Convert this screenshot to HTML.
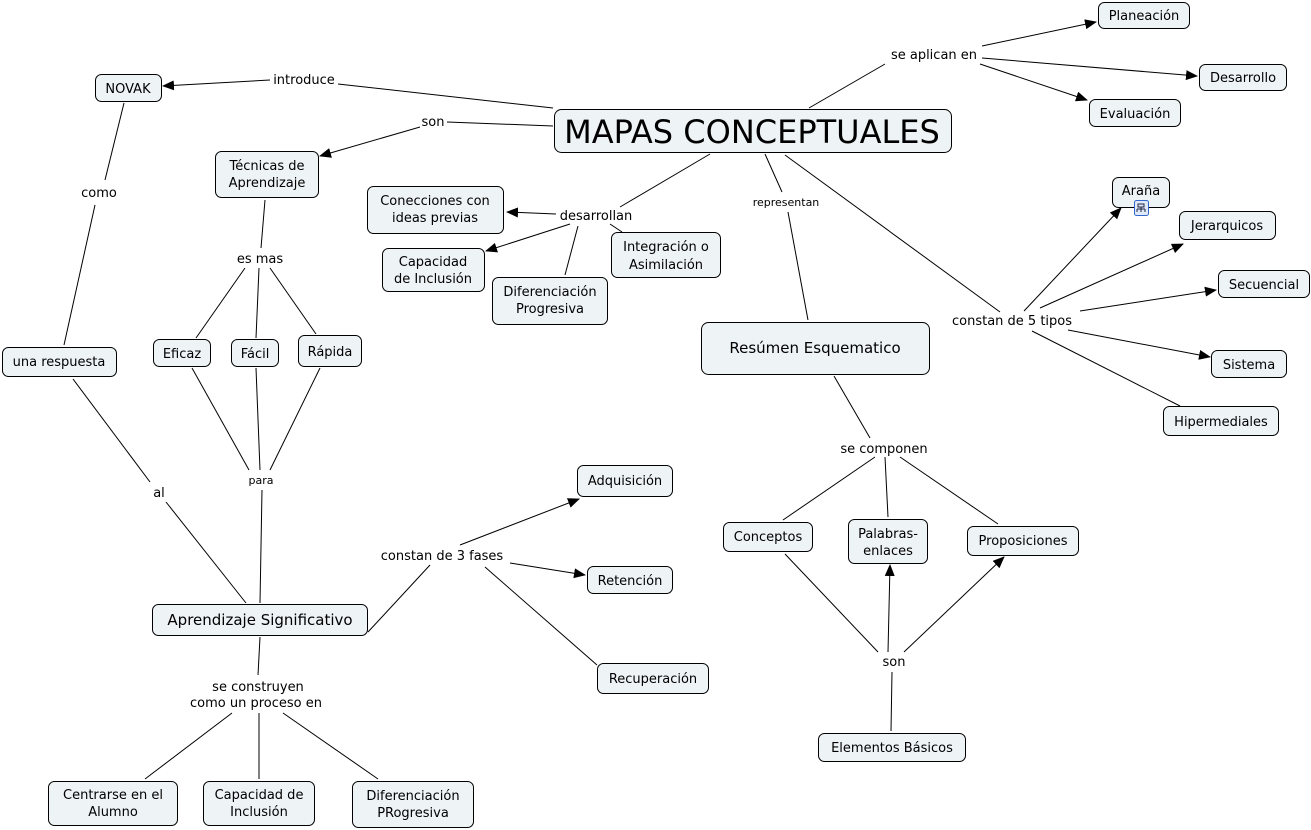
<!DOCTYPE html>
<html><head><meta charset="utf-8"><style>
html,body{margin:0;padding:0;background:#fff}
svg{display:block}
text{font-family:"DejaVu Sans","Liberation Sans",sans-serif;font-size:13px;fill:#000}
.b{fill:#eef3f5;stroke:#000;stroke-width:1}
line{stroke:#000;stroke-width:1}
</style></head><body>
<svg width="1311" height="830" viewBox="0 0 1311 830">
<defs><marker id="a" markerWidth="12" markerHeight="10" refX="11" refY="5" orient="auto" markerUnits="userSpaceOnUse"><path d="M0,0 L12,5 L0,10 z" fill="#000"/></marker></defs>
<g>
<line x1="553" y1="108" x2="338" y2="84"/>
<line x1="270" y1="80" x2="163" y2="86" marker-end="url(#a)"/>
<line x1="553" y1="126" x2="447" y2="122"/>
<line x1="420" y1="127" x2="320" y2="156" marker-end="url(#a)"/>
<line x1="124" y1="103" x2="105" y2="180"/>
<line x1="95" y1="205" x2="64" y2="345"/>
<line x1="265" y1="200" x2="261" y2="248"/>
<line x1="245" y1="268" x2="196" y2="338"/>
<line x1="259" y1="268" x2="256" y2="338"/>
<line x1="270" y1="268" x2="316" y2="334"/>
<line x1="192" y1="368" x2="249" y2="470"/>
<line x1="256" y1="368" x2="260" y2="470"/>
<line x1="320" y1="368" x2="270" y2="470"/>
<line x1="262" y1="490" x2="260" y2="603"/>
<line x1="73" y1="379" x2="150" y2="482"/>
<line x1="166" y1="502" x2="246" y2="603"/>
<line x1="368" y1="632" x2="430" y2="565"/>
<line x1="460" y1="545" x2="579" y2="499" marker-end="url(#a)"/>
<line x1="510" y1="563" x2="585" y2="575" marker-end="url(#a)"/>
<line x1="485" y1="567" x2="597" y2="665"/>
<line x1="260" y1="637" x2="258" y2="675"/>
<line x1="232" y1="713" x2="145" y2="779"/>
<line x1="259" y1="713" x2="259" y2="779"/>
<line x1="283" y1="713" x2="378" y2="779"/>
<line x1="710" y1="154" x2="620" y2="207"/>
<line x1="556" y1="214" x2="507" y2="212" marker-end="url(#a)"/>
<line x1="570" y1="224" x2="486" y2="251" marker-end="url(#a)"/>
<line x1="578" y1="226" x2="565" y2="275"/>
<line x1="610" y1="224" x2="622" y2="232"/>
<line x1="765" y1="154" x2="782" y2="192"/>
<line x1="788" y1="212" x2="808" y2="320"/>
<line x1="834" y1="376" x2="870" y2="438"/>
<line x1="875" y1="457" x2="783" y2="520"/>
<line x1="885" y1="457" x2="888" y2="517"/>
<line x1="900" y1="457" x2="998" y2="524"/>
<line x1="785" y1="554" x2="878" y2="652"/>
<line x1="888" y1="652" x2="890" y2="565" marker-end="url(#a)"/>
<line x1="904" y1="652" x2="1004" y2="557" marker-end="url(#a)"/>
<line x1="892" y1="672" x2="891" y2="731"/>
<line x1="809" y1="108" x2="885" y2="64"/>
<line x1="982" y1="46" x2="1096" y2="22" marker-end="url(#a)"/>
<line x1="982" y1="58" x2="1197" y2="76" marker-end="url(#a)"/>
<line x1="980" y1="64" x2="1087" y2="100" marker-end="url(#a)"/>
<line x1="785" y1="155" x2="1000" y2="312"/>
<line x1="1024" y1="311" x2="1121" y2="208" marker-end="url(#a)"/>
<line x1="1040" y1="308" x2="1183" y2="244" marker-end="url(#a)"/>
<line x1="1080" y1="311" x2="1216" y2="290" marker-end="url(#a)"/>
<line x1="1068" y1="330" x2="1210" y2="357" marker-end="url(#a)"/>
<line x1="1032" y1="331" x2="1180" y2="406"/>
</g>
<g>
<rect class="b" x="554.5" y="109.5" width="397" height="43" rx="7"/>
<rect class="b" x="95.5" y="74.5" width="66" height="27" rx="6"/>
<rect class="b" x="215.5" y="151.5" width="103" height="46" rx="6"/>
<rect class="b" x="367.5" y="186.5" width="136" height="47" rx="6"/>
<rect class="b" x="382.5" y="248.5" width="102" height="43" rx="6"/>
<rect class="b" x="492.5" y="277.5" width="115" height="47" rx="6"/>
<rect class="b" x="611.5" y="232.5" width="109" height="45" rx="6"/>
<rect class="b" x="701.5" y="322.5" width="228" height="52" rx="7"/>
<rect class="b" x="1098.5" y="2.5" width="91" height="26" rx="6"/>
<rect class="b" x="1199.5" y="64.5" width="87" height="26" rx="6"/>
<rect class="b" x="1089.5" y="99.5" width="91" height="27" rx="6"/>
<rect class="b" x="1112.5" y="177.5" width="57" height="30" rx="6"/>
<rect class="b" x="1179.5" y="211.5" width="96" height="28" rx="6"/>
<rect class="b" x="1218.5" y="270.5" width="91" height="27" rx="6"/>
<rect class="b" x="1211.5" y="350.5" width="75" height="27" rx="6"/>
<rect class="b" x="1163.5" y="406.5" width="115" height="29" rx="6"/>
<rect class="b" x="2.5" y="347.5" width="114" height="29" rx="6"/>
<rect class="b" x="153.5" y="339.5" width="57" height="27" rx="6"/>
<rect class="b" x="231.5" y="339.5" width="47" height="27" rx="6"/>
<rect class="b" x="298.5" y="335.5" width="63" height="31" rx="6"/>
<rect class="b" x="152.5" y="604.5" width="215" height="31" rx="6"/>
<rect class="b" x="577.5" y="465.5" width="95" height="31" rx="6"/>
<rect class="b" x="587.5" y="566.5" width="85" height="27" rx="6"/>
<rect class="b" x="597.5" y="663.5" width="111" height="30" rx="6"/>
<rect class="b" x="723.5" y="522.5" width="89" height="29" rx="6"/>
<rect class="b" x="848.5" y="519.5" width="79" height="44" rx="6"/>
<rect class="b" x="967.5" y="526.5" width="111" height="29" rx="6"/>
<rect class="b" x="818.5" y="733.5" width="147" height="28" rx="6"/>
<rect class="b" x="48.5" y="781.5" width="129" height="44" rx="6"/>
<rect class="b" x="203.5" y="781.5" width="111" height="44" rx="6"/>
<rect class="b" x="352.5" y="781.5" width="121" height="46" rx="6"/>
<rect x="1134.5" y="200.5" width="14" height="15" rx="2" fill="#dfeaf8" stroke="#3366cc"/>
<path d="M1138 204h6v3h-6zM1141 207v2M1137 209h8M1137 209v3M1145 209v3M1141 209v3" stroke="#224" fill="none" stroke-width="1"/>
</g>
<g text-anchor="middle">
<text x="752" y="143" style="font-size:32px">MAPAS CONCEPTUALES</text>
<text x="128" y="93">NOVAK</text>
<text x="267" y="170">Técnicas de</text><text x="267" y="187">Aprendizaje</text>
<text x="435" y="205">Conecciones con</text><text x="435" y="222">ideas previas</text>
<text x="433" y="266">Capacidad</text><text x="433" y="283">de Inclusión</text>
<text x="550" y="296">Diferenciación</text><text x="550" y="313">Progresiva</text>
<text x="666" y="251">Integración o</text><text x="666" y="269">Asimilación</text>
<text x="815" y="353" style="font-size:15px">Resúmen Esquematico</text>
<text x="1144" y="20">Planeación</text>
<text x="1243" y="82">Desarrollo</text>
<text x="1135" y="118">Evaluación</text>
<text x="1141" y="195">Araña</text>
<text x="1227" y="230">Jerarquicos</text>
<text x="1264" y="289">Secuencial</text>
<text x="1249" y="369">Sistema</text>
<text x="1221" y="426">Hipermediales</text>
<text x="59" y="366">una respuesta</text>
<text x="182" y="358">Eficaz</text>
<text x="255" y="358">Fácil</text>
<text x="330" y="356">Rápida</text>
<text x="260" y="625" style="font-size:15px">Aprendizaje Significativo</text>
<text x="625" y="485">Adquisición</text>
<text x="630" y="585">Retención</text>
<text x="653" y="683">Recuperación</text>
<text x="768" y="541">Conceptos</text>
<text x="888" y="538">Palabras-</text><text x="888" y="555">enlaces</text>
<text x="1023" y="545">Proposiciones</text>
<text x="892" y="752">Elementos Básicos</text>
<text x="113" y="799">Centrarse en el</text><text x="113" y="816">Alumno</text>
<text x="259" y="799">Capacidad de</text><text x="259" y="816">Inclusión</text>
<text x="413" y="800">Diferenciación</text><text x="413" y="817">PRogresiva</text>
<text x="304" y="84">introduce</text>
<text x="433" y="126">son</text>
<text x="99" y="197">como</text>
<text x="260" y="263">es mas</text>
<text x="596" y="220">desarrollan</text>
<text x="786" y="206" style="font-size:11px">representan</text>
<text x="934" y="59">se aplican en</text>
<text x="1012" y="325">constan de 5 tipos</text>
<text x="884" y="453">se componen</text>
<text x="261" y="484" style="font-size:11px">para</text>
<text x="159" y="497">al</text>
<text x="442" y="560">constan de 3 fases</text>
<text x="258" y="691">se construyen</text><text x="256" y="707">como un proceso en</text>
<text x="894" y="666">son</text>
</g>
</svg>
</body></html>
